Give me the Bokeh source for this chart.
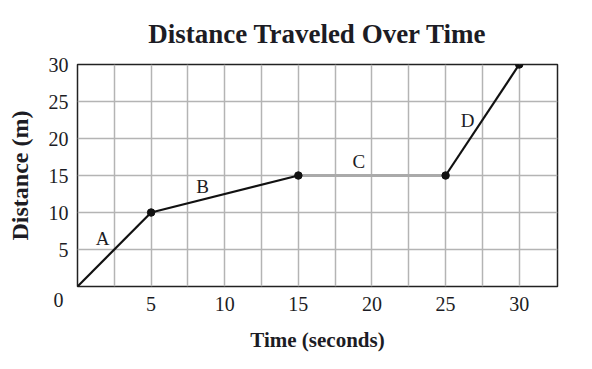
from bokeh.plotting import figure
from bokeh.models import FixedTicker, Label, Range1d
from bokeh.embed import file_html
from bokeh.resources import INLINE

times = [0, 5, 15, 25, 30]
distances = [0, 10, 15, 15, 30]
segment_names = ["A", "B", "C", "D"]
segment_colors = ["#111111", "#111111", "#aaaaaa", "#111111"]
label_x = [1.7, 8.5, 19.1, 26.5]
label_y = [6.5, 13.5, 16.9, 22.4]
x_ticks = [5, 10, 15, 20, 25, 30]
y_ticks = [0, 5, 10, 15, 20, 25, 30]
x_grid = [2.5 * i for i in range(1, 13)]
y_grid = [5, 10, 15, 20, 25]

FONT = "Liberation Serif"
TXT = "#1c1c24"

p = figure(width=592, height=369, output_backend="svg", toolbar_location=None,
           x_range=Range1d(0, 32.6), y_range=Range1d(0, 30),
           min_border_left=77, min_border_right=35, min_border_top=64,
           min_border_bottom=83, title="Distance Traveled Over Time")
p.title.align = "center"
p.title.text_font = FONT
p.title.text_font_size = "27px"
p.title.text_font_style = "bold"
p.title.text_color = TXT
p.title.offset = 0
p.title.standoff = 32

p.outline_line_color = "#222222"
p.outline_line_width = 1.5
p.outline_line_alpha = 1

p.xaxis.ticker = FixedTicker(ticks=x_ticks)
p.yaxis.ticker = FixedTicker(ticks=y_ticks)
p.yaxis.major_label_overrides = {0: "\n0\u00a0"}
p.xgrid.ticker = FixedTicker(ticks=x_grid)
p.ygrid.ticker = FixedTicker(ticks=y_grid)
for g in (p.xgrid, p.ygrid):
    g.grid_line_color = "#b4b4b4"
    g.grid_line_width = 1.5
    g.grid_line_alpha = 1

for ax in (p.xaxis, p.yaxis):
    ax.axis_line_color = None
    ax.major_tick_line_color = None
    ax.minor_tick_line_color = None
    ax.major_tick_out = 0
    ax.major_tick_in = 0
    ax.major_label_text_font = FONT
    ax.major_label_text_font_size = "20px"
    ax.major_label_text_color = TXT
    ax.axis_label_text_font = FONT
    ax.axis_label_text_font_style = "bold"
    ax.axis_label_text_color = TXT

p.xaxis.axis_label = "Time (seconds)"
p.yaxis.axis_label = "Distance (m)"
p.xaxis.axis_label_text_font_size = "21px"
p.yaxis.axis_label_text_font_size = "24px"
p.xaxis.major_label_standoff = 10
p.yaxis.major_label_standoff = 9
p.xaxis.axis_label_standoff = 14
p.yaxis.axis_label_standoff = 13

for i in range(4):
    p.line(times[i:i + 2], distances[i:i + 2], line_color=segment_colors[i],
           line_width=3 if segment_colors[i] != "#111111" else 2.2)

p.scatter(times[1:], distances[1:], size=7.5, color="#111111")

for name, lx, ly in zip(segment_names, label_x, label_y):
    p.add_layout(Label(x=lx, y=ly, text=name, text_font=FONT, text_font_size="19px",
                       text_color=TXT, text_align="center", text_baseline="middle"))

open("out.html", "w").write(file_html(p, INLINE))
